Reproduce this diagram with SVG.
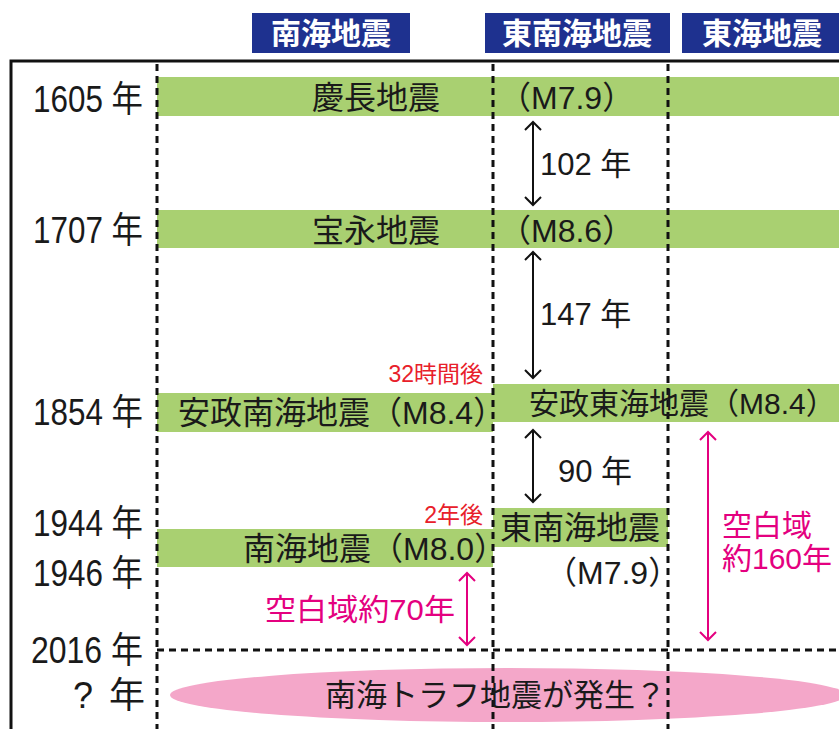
<svg xmlns="http://www.w3.org/2000/svg" width="839" height="729" viewBox="0 0 839 729">
<style>
.hdr{fill:#1e318f}
.hdrt{fill:#fff;font-family:"Noto Sans CJK JP",sans-serif;font-weight:bold;font-size:30px;text-anchor:middle}
.bar{fill:#a9d071}
.t{font-family:"Liberation Sans","Noto Sans CJK JP",sans-serif;fill:#1a1a1a}
.yr{font-size:36px}
.lb{font-size:32px}
.red{fill:#e8202a;font-size:23px;text-anchor:end}
.mg{fill:#e4007f;font-size:30px}
.dash{stroke:#111;stroke-width:3;stroke-dasharray:7 5;fill:none}
.frame{stroke:#111;stroke-width:3;fill:none}
.ar{stroke:#111;stroke-width:2;fill:none}
.am{stroke:#e4007f;stroke-width:2;fill:none}
</style>
<rect width="839" height="729" fill="#fff"/>
<g id="headers">
<g id="h-nankai"><rect class="hdr" x="252" y="13" width="158" height="40"/><text class="hdrt" x="331" y="44">南海地震</text></g>
<g id="h-tonankai"><rect class="hdr" x="485" y="13" width="185" height="40"/><text class="hdrt" x="577" y="44">東南海地震</text></g>
<g id="h-tokai"><rect class="hdr" x="682" y="13" width="157" height="40"/><text class="hdrt" x="762" y="44">東海地震</text></g>
</g>
<g id="bars">
<rect id="bar-1605" class="bar" x="157" y="77" width="682" height="39"/>
<rect id="bar-1707" class="bar" x="157" y="210" width="682" height="38"/>
<rect id="bar-1854a" class="bar" x="157" y="393" width="336" height="39"/>
<rect id="bar-1854b" class="bar" x="493" y="384" width="346" height="38"/>
<rect id="bar-1944" class="bar" x="493" y="508" width="175" height="39"/>
<rect id="bar-1946" class="bar" x="157" y="529" width="336" height="38"/>
</g>
<ellipse id="future" cx="508" cy="695" rx="338" ry="27" fill="#f4a7c9"/>
<g id="frame">
<path class="frame" d="M11 729 V61 H839"/>
<path class="dash" d="M157 64 V729 M493 64 V729 M668 64 V729 M157 650 H839"/>
</g>
<g id="years" class="t yr">
<text x="33" y="112" textLength="110" lengthAdjust="spacingAndGlyphs">1605 年</text>
<text x="33" y="243" textLength="110" lengthAdjust="spacingAndGlyphs">1707 年</text>
<text x="33" y="425" textLength="110" lengthAdjust="spacingAndGlyphs">1854 年</text>
<text x="33" y="536" textLength="110" lengthAdjust="spacingAndGlyphs">1944 年</text>
<text x="33" y="586" textLength="110" lengthAdjust="spacingAndGlyphs">1946 年</text>
<text x="31" y="663" textLength="112" lengthAdjust="spacingAndGlyphs">2016 年</text>
<text x="73" y="708">?</text><text x="109" y="708">年</text>
</g>
<g id="labels" class="t lb">
<text x="376" y="109" text-anchor="middle">慶長地震</text>
<text x="499" y="109">（M7.9）</text>
<text x="376" y="242" text-anchor="middle">宝永地震</text>
<text x="499" y="242">（M8.6）</text>
<text x="178" y="424">安政南海地震（M8.4）</text>
<text x="529" y="414" font-size="30">安政東海地震（M8.4）</text>
<text x="500" y="539">東南海地震</text>
<text x="545" y="584">（M7.9）</text>
<text x="243" y="560">南海地震（M8.0）</text>
<text x="325" y="706" font-size="31">南海トラフ地震が発生？</text>
</g>
<g id="intervals" class="t" font-size="31">
<text x="540" y="175">102 年</text>
<text x="540" y="325">147 年</text>
<text x="558" y="482">90 年</text>
</g>
<g id="notes" class="t">
<text class="red" x="483" y="382">32時間後</text>
<text class="red" x="483" y="523">2年後</text>
<text class="mg" x="265" y="620" textLength="190" lengthAdjust="spacingAndGlyphs">空白域約70年</text>
<text class="mg" x="722" y="536">空白域</text>
<text class="mg" x="722" y="569">約160年</text>
</g>
<g id="connectors">
<path class="ar" d="M533 122 V205 M525 130 L533 122 L541 130 M525 197 L533 205 L541 197"/>
<path class="ar" d="M533 252 V378 M525 260 L533 252 L541 260 M525 370 L533 378 L541 370"/>
<path class="ar" d="M533 430 V502 M525 438 L533 430 L541 438 M525 494 L533 502 L541 494"/>
<path class="am" d="M467 573 V645 M459 581 L467 573 L475 581 M459 637 L467 645 L475 637"/>
<path class="am" d="M708 432 V640 M700 440 L708 432 L716 440 M700 632 L708 640 L716 632"/>
</g>
</svg>
